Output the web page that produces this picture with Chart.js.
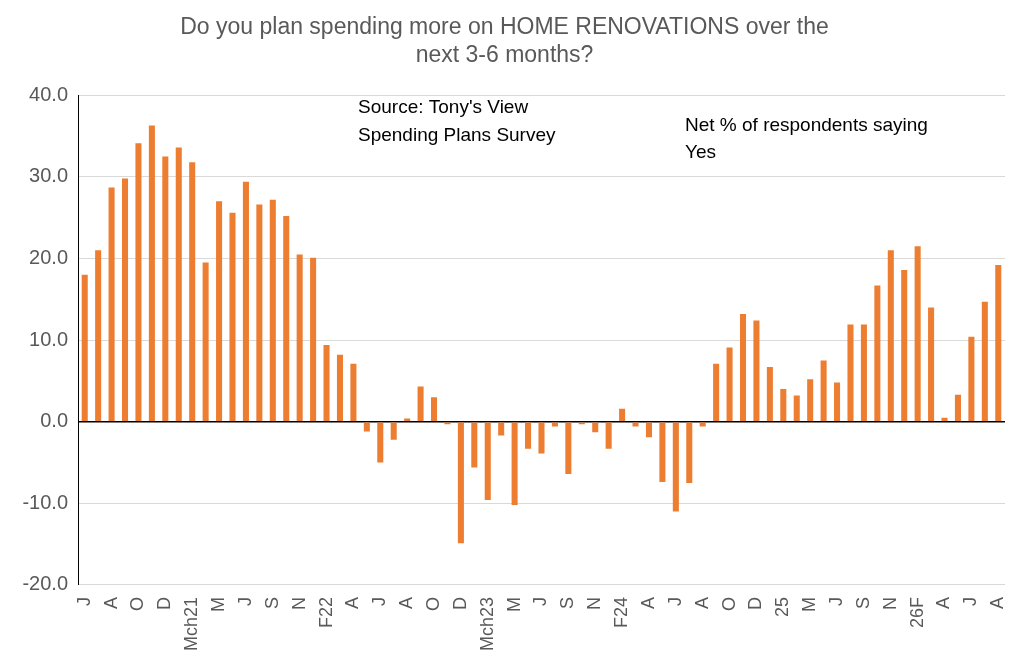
<!DOCTYPE html>
<html>
<head>
<meta charset="utf-8">
<script src="https://cdn.jsdelivr.net/npm/chart.js@4/dist/chart.umd.min.js"></script>
<style>
  html, body { margin: 0; padding: 0; background: #fff; }
  #wrap { width: 1024px; height: 669px; position: relative; }
</style>
</head>
<body>
<div id="wrap"><canvas id="chart" width="1024" height="669"></canvas></div>
<script>
// Net % of respondents saying Yes, monthly
const values = [
    18, 21, 28.7, 29.8, 34.1, 36.3, 32.5, 33.6, 31.8, 19.5,
    27, 25.6, 29.4, 26.6, 27.2, 25.2, 20.5, 20.1, 9.4, 8.2,
    7.1, -1.2, -5, -2.2, 0.4, 4.3, 3, -0.3, -14.9, -5.6,
    -9.6, -1.7, -10.2, -3.3, -3.9, -0.6, -6.4, -0.3, -1.3, -3.3,
    1.6, -0.6, -1.9, -7.4, -11, -7.5, -0.6, 7.1, 9.1, 13.2,
    12.4, 6.7, 4, 3.2, 5.2, 7.5, 4.8, 11.9, 11.9, 16.7,
    21, 18.6, 21.5, 14, 0.5, 3.3, 10.4, 14.7, 19.2
];
// tick labels shown on every second month
const tickLabels = ['J','A','O','D','Mch21','M','J','S','N','F22','A','J','A','O','D','Mch23','M','J','S','N',
    'F24','A','J','A','O','D','25','M','J','S','N','26F','A','J','A'];
const labels = values.map((v, i) => (i % 2 === 0 ? tickLabels[i / 2] : ''));

const notes = {
    id: 'notes',
    afterDraw(chart) {
        const c = chart.ctx;
        c.save();
        c.fillStyle = '#000';
        c.font = '19px "Liberation Sans", Arial, sans-serif';
        c.textBaseline = 'middle';
        c.fillText("Source: Tony's View", 358, 108);
        c.fillText('Spending Plans Survey', 358, 136);
        c.fillText('Net % of respondents saying', 685, 126);
        c.fillText('Yes', 685, 153);
        c.restore();
    }
};

new Chart(document.getElementById('chart').getContext('2d'), {
    type: 'bar',
    data: {
        labels: labels,
        datasets: [{
            data: values,
            backgroundColor: '#ED7D31',
            barPercentage: 0.45,
            categoryPercentage: 1.0
        }]
    },
    options: {
        responsive: false,
        animation: false,
        layout: { padding: { left: 4, right: 19, top: 0, bottom: 14 } },
        plugins: {
            legend: { display: false },
            tooltip: { enabled: false },
            title: {
                display: true,
                text: ['Do you plan spending more on HOME RENOVATIONS over the', 'next 3-6 months?'],
                color: '#595959',
                font: { family: '"Liberation Sans", Arial, sans-serif', size: 23, weight: 'normal' },
                padding: { top: 14, bottom: 26 },
                lineHeight: 1.35
            }
        },
        scales: {
            y: {
                min: -20,
                max: 40,
                afterFit: s => { s.width = 74; },
                ticks: {
                    stepSize: 10,
                    padding: 10,
                    color: '#595959',
                    font: { family: '"Liberation Sans", Arial, sans-serif', size: 20 },
                    callback: v => v.toFixed(1)
                },
                grid: {
                    color: ctx => (ctx.tick.value === 0 ? '#000' : '#d9d9d9'),
                    lineWidth: ctx => (ctx.tick.value === 0 ? 1.5 : 1),
                    drawTicks: false
                },
                border: { display: true, color: '#000' }
            },
            x: {
                grid: { display: false },
                border: { display: false },
                ticks: {
                    autoSkip: false,
                    maxRotation: 90,
                    minRotation: 90,
                    padding: 4,
                    color: '#595959',
                    font: { family: '"Liberation Sans", Arial, sans-serif', size: 18 }
                }
            }
        }
    },
    plugins: [notes]
});
</script>
</body>
</html>
